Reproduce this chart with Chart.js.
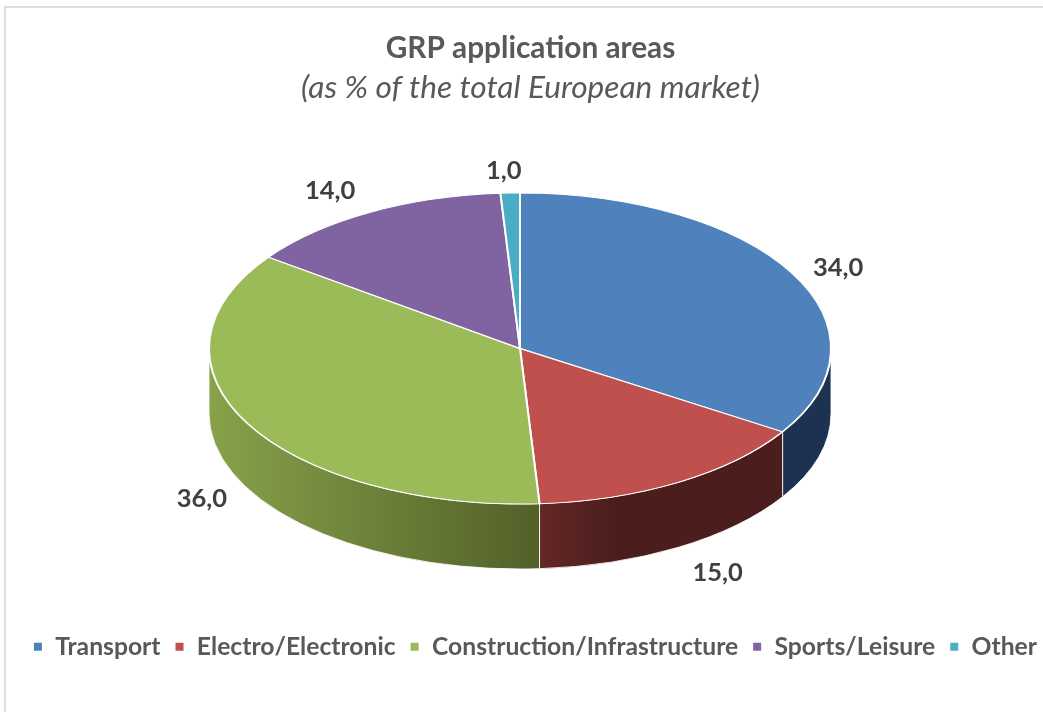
<!DOCTYPE html>
<html>
<head>
<meta charset="utf-8">
<style>
html,body{margin:0;padding:0;background:#fff;overflow:hidden;}
#wrap{position:relative;width:1043px;height:712px;overflow:hidden;}
#frame{position:absolute;left:4px;top:6px;width:1043px;height:712px;border:2px solid #dedede;box-sizing:border-box;}
canvas{position:absolute;left:0;top:0;display:block;}
</style>
<script src="https://cdn.jsdelivr.net/npm/chart.js@4/dist/chart.umd.min.js"></script>
</head>
<body>
<div id="wrap"><div id="frame"></div><canvas id="c" width="1051" height="712"></canvas></div>
<script>
const categories = ["Transport","Electro/Electronic","Construction/Infrastructure","Sports/Leisure","Other"];
const shares = [34,15,36,14,1];
const topColours = ["#4f81bd","#c0504d","#9bbb59","#8064a2","#4bacc6"];
const wallLeftColours = ["#1c3250","#642826","#87a24a","#4d3c62","#2d6777"];
const wallRightColours = ["#1c3250","#4b1e1d","#526029","#4d3c62","#2d6777"];
const wallFadeEnd = [1,0.3,1,1,1];
const labelNudgeX = [2,14,-2,-16,-5];
const labelNudgeY = [5,5,-1,-1,1];

const view = {cx:520, cy:348.5, squash:0.5, depth:65};
const FONT = "Lato, 'Open Sans', sans-serif";

function wallPlugin(){
  return {
    id:'tilted',
    beforeDatasetDraw(chart){
      const ctx = chart.ctx;
      const arcs = chart.getDatasetMeta(0).data;
      ctx.save();
      arcs.forEach((el,i)=>{
        const a = Math.max(el.startAngle,0), b = Math.min(el.endAngle,Math.PI);
        if (b <= a) return;
        const r = el.outerRadius, ry = r*view.squash;
        const x0 = view.cx + r*Math.cos(b), x1 = view.cx + r*Math.cos(a);
        const g = ctx.createLinearGradient(x0,0,x1,0);
        g.addColorStop(0,wallLeftColours[i]);
        g.addColorStop(wallFadeEnd[i],wallRightColours[i]);
        ctx.beginPath();
        ctx.ellipse(view.cx,view.cy,r,ry,0,a,b,false);
        ctx.ellipse(view.cx,view.cy+view.depth,r,ry,0,b,a,true);
        ctx.closePath();
        ctx.fillStyle = g;
        ctx.fill();
        ctx.strokeStyle = 'rgba(255,255,255,0.85)';
        ctx.lineWidth = 1;
        ctx.stroke();
      });
      ctx.restore();
      ctx.save();
      ctx.translate(view.cx,view.cy);
      ctx.scale(1,view.squash);
      const first = arcs[0];
      ctx.translate(-first.x,-first.y);
    },
    afterDatasetDraw(chart){
      chart.ctx.restore();
      const ctx = chart.ctx;
      const arcs = chart.getDatasetMeta(0).data;
      ctx.save();
      ctx.font = "bold 25.5px "+FONT;
      ctx.fillStyle = "#404040";
      ctx.textAlign = "center";
      ctx.textBaseline = "middle";
      arcs.forEach((el,i)=>{
        const m = (el.startAngle+el.endAngle)/2;
        const r = el.outerRadius, ry = r*view.squash;
        const front = Math.sin(m) > 0 ? view.depth : 0;
        const x = view.cx + r*1.16*Math.cos(m) + labelNudgeX[i];
        const y = view.cy + ry*1.15*Math.sin(m) + front + labelNudgeY[i];
        ctx.fillText(shares[i].toFixed(1).replace('.',','),x,y);
      });
      ctx.restore();
    }
  };
}

new Chart(document.getElementById('c'),{
  type:'pie',
  data:{labels:categories,datasets:[{data:shares,backgroundColor:topColours,borderColor:'#ffffff',borderWidth:2,clip:false,radius:311}]},
  options:{
    responsive:false,
    animation:false,
    layout:{padding:{left:10,right:0,top:31,bottom:43}},
    plugins:{
      title:{display:true,text:"GRP application areas",color:"#595959",font:{family:FONT,size:29.75,weight:'bold'},padding:{top:0,bottom:2}},
      subtitle:{display:true,text:"(as % of the total European market)",color:"#595959",font:{family:FONT,size:31.6,style:'italic',weight:'normal'},padding:{top:0,bottom:0}},
      legend:{position:'bottom',align:'end',labels:{boxWidth:10,boxHeight:10,padding:14,color:"#595959",font:{family:FONT,size:24.7,weight:'bold'}}},
      tooltip:{enabled:false}
    }
  },
  plugins:[wallPlugin()]
});
</script>
</body>
</html>
